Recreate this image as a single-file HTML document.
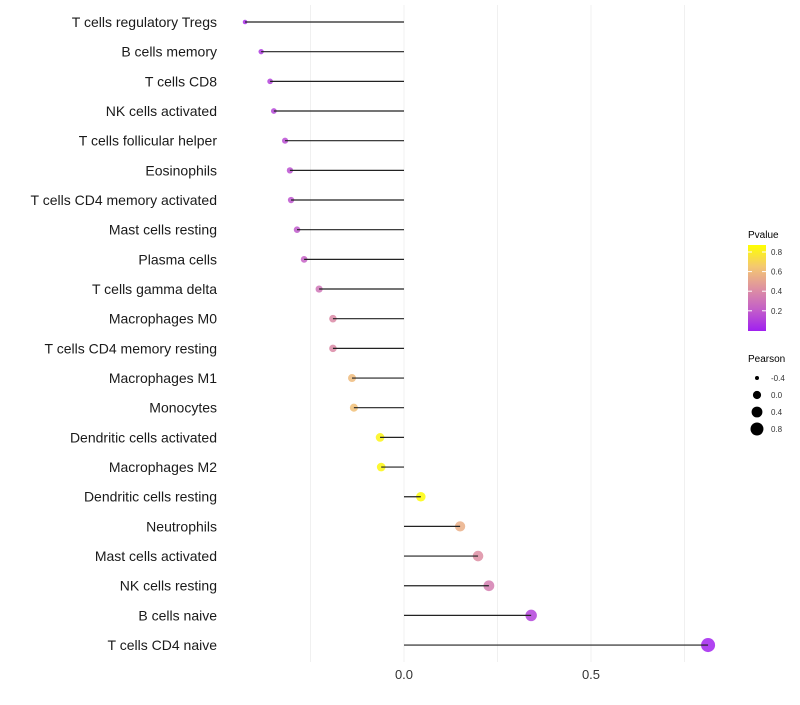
<!DOCTYPE html>
<html><head><meta charset="utf-8"><style>
body{margin:0;background:#fff;font-family:"Liberation Sans",sans-serif;}
</style></head><body>
<svg id="chart" width="800" height="700" xmlns="http://www.w3.org/2000/svg">
<defs><linearGradient id="pg" x1="0" y1="1" x2="0" y2="0">
<stop offset="0" stop-color="#a020f0"/><stop offset="0.25" stop-color="#c35fc8"/><stop offset="0.5" stop-color="#df92a0"/><stop offset="0.75" stop-color="#f4c870"/><stop offset="1" stop-color="#ffff00"/></linearGradient></defs>
<g id="grid"></g>
<g id="marks"></g>
<g id="labels"></g>
<g id="xticks"></g>
<g>
<text x="748" y="238" font-size="10">Pvalue</text>
<rect x="748" y="245" width="18" height="86" fill="url(#pg)"/>
<g id="cbticks"></g>
</g>
<g>
<text x="748" y="362" font-size="10">Pearson</text>
<g id="sizeleg"></g>
</g>
</svg>
<script>
const categories=["T cells regulatory  Tregs","B cells memory","T cells CD8","NK cells activated","T cells follicular helper","Eosinophils","T cells CD4 memory activated","Mast cells resting","Plasma cells","T cells gamma delta","Macrophages M0","T cells CD4 memory resting","Macrophages M1","Monocytes","Dendritic cells activated","Macrophages M2","Dendritic cells resting","Neutrophils","Mast cells activated","NK cells resting","B cells naive","T cells CD4 naive"];
const pearson=[-0.425,-0.382,-0.358,-0.348,-0.318,-0.305,-0.302,-0.286,-0.267,-0.227,-0.19,-0.19,-0.139,-0.134,-0.064,-0.061,0.045,0.15,0.198,0.227,0.34,0.813];
const pvalue=[0.05,0.09,0.12,0.13,0.16,0.17,0.18,0.2,0.23,0.31,0.4,0.4,0.6,0.62,0.83,0.84,0.86,0.55,0.42,0.35,0.12,0.01];
const xTicks=[0,0.5];
const xTickLabels=["0.0","0.5"];
const gridVals=[-0.25,0.25,0.75];
const cbTicks=[0.2,0.4,0.6,0.8];
const sizeLegend=[-0.4,0.0,0.4,0.8];
const NS="http://www.w3.org/2000/svg";
const X=v=>404+v*374;
const Y=i=>22+i*29.67;
const R=v=>Math.sqrt(Math.max(1,16.7+31.7*v));
const RP=v=>R(v)+0.5;
const PY=p=>252+(0.8-p)*98;
const stops=[[0,[160,32,240]],[0.25,[195,95,200]],[0.5,[223,146,160]],[0.75,[244,200,112]],[1,[255,255,0]]];
function col(p){let t=Math.min(1,Math.max(0,p/0.87));for(let k=0;k<stops.length-1;k++){const a=stops[k],b=stops[k+1];if(t<=b[0]){const f=(t-a[0])/(b[0]-a[0]);return "rgb("+a[1].map((c,j)=>Math.round(c+(b[1][j]-c)*f)).join(",")+")";}}return "rgb(255,255,0)";}
function mk(t,a,p){const e=document.createElementNS(NS,t);for(const k in a)e.setAttribute(k,a[k]);p.appendChild(e);return e;}
const grid=document.getElementById('grid');
gridVals.concat(xTicks).forEach(v=>{const l=mk('line',{x1:X(v),x2:X(v),y1:5,y2:662,stroke:'#f0f0f0','stroke-width':1},grid);

});
const marks=document.getElementById('marks'),labels=document.getElementById('labels');
categories.forEach((c,i)=>{
const d=mk('circle',{cx:X(pearson[i]),cy:Y(i),r:RP(pearson[i]),fill:col(pvalue[i]),'fill-opacity':0.85},marks);


const l=mk('line',{x1:X(0),x2:X(pearson[i]),y1:Y(i),y2:Y(i),stroke:'#222','stroke-width':1.2},marks);


const t=mk('text',{x:217,y:Y(i)+5,'text-anchor':'end','font-size':14,fill:'#1a1a1a'},labels);t.textContent=c;


});
const xt=document.getElementById('xticks');
xTicks.forEach((v,i)=>{const t=mk('text',{x:X(v),y:679,'text-anchor':'middle','font-size':13,fill:'#333'},xt);t.textContent=xTickLabels[i];

});
const cb=document.getElementById('cbticks');
cbTicks.forEach(v=>{mk('line',{x1:748,x2:752,y1:PY(v),y2:PY(v),stroke:'#fff'},cb);mk('line',{x1:762,x2:766,y1:PY(v),y2:PY(v),stroke:'#fff'},cb);
const t=mk('text',{x:771,y:PY(v)+3,'font-size':8,fill:'#333'},cb);t.textContent=v.toFixed(1);

});
const sl=document.getElementById('sizeleg');
sizeLegend.forEach((v,i)=>{const y=378+i*17;const c=mk('circle',{cx:757,cy:y,r:R(v),fill:'#000'},sl);


const t=mk('text',{x:771,y:y+3,'font-size':8,fill:'#333'},sl);t.textContent=v.toFixed(1);

});
</script>
</body></html>
